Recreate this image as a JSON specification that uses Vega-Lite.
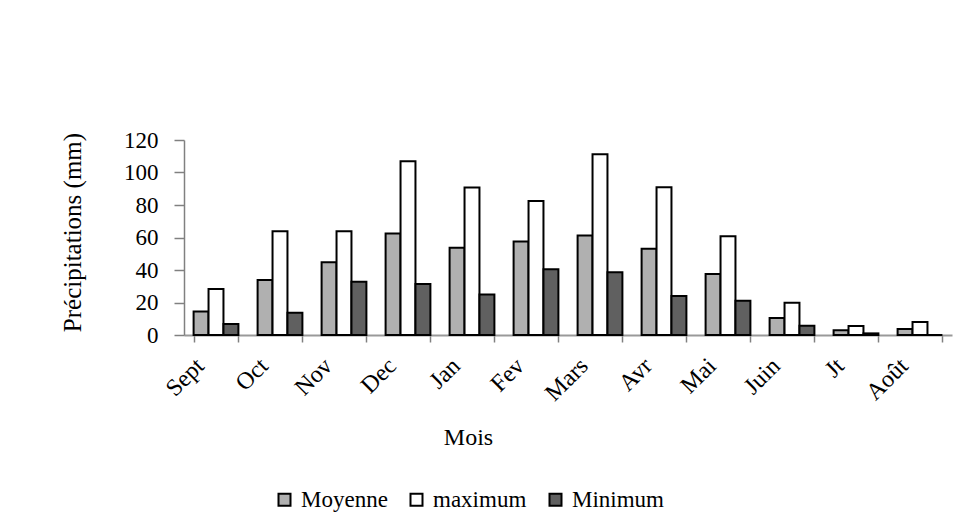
{
  "$schema": "https://vega.github.io/schema/vega-lite/v6.json",
  "width": 768,
  "height": 195,
  "autosize": {"type": "none"},
  "padding": {"left": 184, "top": 140, "right": 10, "bottom": 185},
  "background": "white",
  "config": {
    "view": {"stroke": null},
    "font": "Liberation Serif"
  },
  "data": {
    "values": [
      {"mois": "Sept", "serie": "Moyenne", "v": 14.4},
      {"mois": "Sept", "serie": "maximum", "v": 28.3},
      {"mois": "Sept", "serie": "Minimum", "v": 6.8},
      {"mois": "Oct", "serie": "Moyenne", "v": 33.8},
      {"mois": "Oct", "serie": "maximum", "v": 63.8},
      {"mois": "Oct", "serie": "Minimum", "v": 13.7},
      {"mois": "Nov", "serie": "Moyenne", "v": 44.7},
      {"mois": "Nov", "serie": "maximum", "v": 63.8},
      {"mois": "Nov", "serie": "Minimum", "v": 32.8},
      {"mois": "Dec", "serie": "Moyenne", "v": 62.4},
      {"mois": "Dec", "serie": "maximum", "v": 107},
      {"mois": "Dec", "serie": "Minimum", "v": 31.4},
      {"mois": "Jan", "serie": "Moyenne", "v": 53.7},
      {"mois": "Jan", "serie": "maximum", "v": 90.7},
      {"mois": "Jan", "serie": "Minimum", "v": 25},
      {"mois": "Fev", "serie": "Moyenne", "v": 57.6},
      {"mois": "Fev", "serie": "maximum", "v": 82.5},
      {"mois": "Fev", "serie": "Minimum", "v": 40.4},
      {"mois": "Mars", "serie": "Moyenne", "v": 61.3},
      {"mois": "Mars", "serie": "maximum", "v": 111.2},
      {"mois": "Mars", "serie": "Minimum", "v": 38.6},
      {"mois": "Avr", "serie": "Moyenne", "v": 53.1},
      {"mois": "Avr", "serie": "maximum", "v": 90.9},
      {"mois": "Avr", "serie": "Minimum", "v": 24},
      {"mois": "Mai", "serie": "Moyenne", "v": 37.5},
      {"mois": "Mai", "serie": "maximum", "v": 60.7},
      {"mois": "Mai", "serie": "Minimum", "v": 21.1},
      {"mois": "Juin", "serie": "Moyenne", "v": 10.5},
      {"mois": "Juin", "serie": "maximum", "v": 19.9},
      {"mois": "Juin", "serie": "Minimum", "v": 5.7},
      {"mois": "Jt", "serie": "Moyenne", "v": 2.9},
      {"mois": "Jt", "serie": "maximum", "v": 5.5},
      {"mois": "Jt", "serie": "Minimum", "v": 1},
      {"mois": "Août", "serie": "Moyenne", "v": 3.7},
      {"mois": "Août", "serie": "maximum", "v": 8},
      {"mois": "Août", "serie": "Minimum", "v": 0}
    ]
  },
  "mark": {"type": "bar", "stroke": "black", "strokeWidth": 2, "strokeJoin": "miter"},
  "encoding": {
    "x": {
      "field": "mois",
      "type": "nominal",
      "sort": null,
      "scale": {"paddingInner": 0.3, "paddingOuter": 0.15},
      "axis": {
        "title": "Mois",
        "titleFont": "Liberation Serif",
        "titleFontSize": 24,
        "titleFontWeight": "normal",
        "titleColor": "black",
        "titleX": 284,
        "titleY": 102,
        "titleBaseline": "middle",
        "titleAlign": "center",
        "labelAngle": -45,
        "labelAlign": "right",
        "labelBaseline": "middle",
        "labelFont": "Liberation Serif",
        "labelFontSize": 24,
        "labelColor": "black",
        "labelPadding": 20,
        "labelOffset": -16,
        "tickBand": "extent",
        "tickSize": 7,
        "tickColor": "#808080",
        "tickWidth": 1.5,
        "domainColor": "#999999",
        "domainWidth": 2
      }
    },
    "xOffset": {"field": "serie", "type": "nominal", "sort": ["Moyenne", "maximum", "Minimum"], "scale": {"paddingInner": 0, "paddingOuter": 0}},
    "y": {
      "field": "v",
      "type": "quantitative",
      "scale": {"domain": [0, 120], "nice": false},
      "axis": {
        "title": "Précipitations (mm)",
        "titleFont": "Liberation Serif",
        "titleFontSize": 25,
        "titleFontWeight": "normal",
        "titleColor": "black",
        "titleX": -112,
        "titleY": 92,
        "titleBaseline": "middle",
        "titleAlign": "center",
        "titleAngle": -90,
        "values": [0, 20, 40, 60, 80, 100, 120],
        "grid": false,
        "labelFont": "Liberation Serif",
        "labelFontSize": 23,
        "labelColor": "black",
        "labelPadding": 16,
        "tickSize": 10,
        "tickColor": "#808080",
        "tickWidth": 1.5,
        "domainColor": "#808080",
        "domainWidth": 1.5
      }
    },
    "fill": {
      "field": "serie",
      "type": "nominal",
      "sort": ["Moyenne", "maximum", "Minimum"],
      "scale": {"domain": ["Moyenne", "maximum", "Minimum"], "range": ["#b0b0b0", "#ffffff", "#606060"]},
      "legend": {
        "title": null,
        "orient": "none",
        "legendX": 89,
        "legendY": 348,
        "direction": "horizontal",
        "symbolType": "square",
        "symbolSize": 144,
        "symbolStrokeColor": "black",
        "symbolStrokeWidth": 2,
        "labelFont": "Liberation Serif",
        "labelFontSize": 23,
        "labelColor": "black",
        "labelOffset": 5,
        "columnPadding": 17,
        "padding": 0
      }
    }
  }
}
